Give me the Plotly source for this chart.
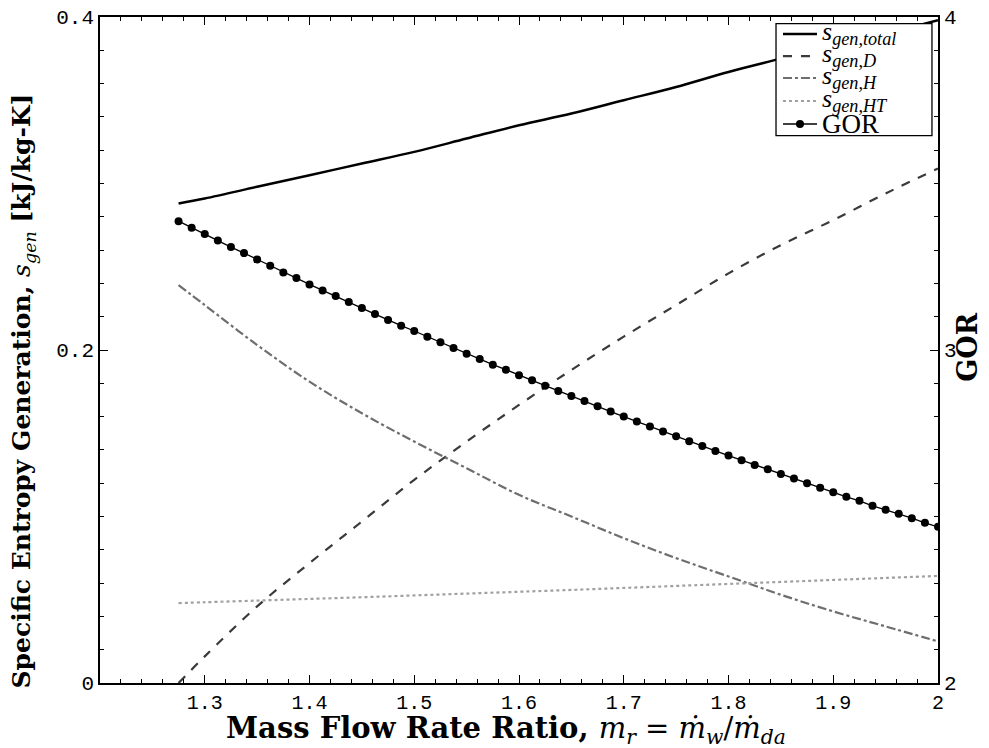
import plotly.graph_objects as go

# ---- data ----
mr_s = [1.275, 1.30, 1.35, 1.40, 1.45, 1.50, 1.55, 1.60, 1.65, 1.70, 1.75,
        1.80, 1.85, 1.90, 1.95, 2.00]
s_total = [0.288, 0.291, 0.298, 0.305, 0.312, 0.319, 0.327, 0.335, 0.342,
           0.350, 0.358, 0.367, 0.375, 0.383, 0.390, 0.398]
s_D = [0.000, 0.016, 0.046, 0.072, 0.097, 0.122, 0.145, 0.167, 0.188,
       0.208, 0.227, 0.246, 0.263, 0.278, 0.294, 0.309]
s_H = [0.239, 0.227, 0.203, 0.181, 0.162, 0.145, 0.129, 0.113, 0.100,
       0.087, 0.075, 0.064, 0.053, 0.043, 0.034, 0.025]
s_HT = [0.0480, 0.0485, 0.0495, 0.0505, 0.0515, 0.0526, 0.0537, 0.0548,
        0.0559, 0.0571, 0.0583, 0.0595, 0.0607, 0.0619, 0.0631, 0.0643]

mr_gor = [1.2750, 1.2875, 1.3000, 1.3125, 1.3250, 1.3375, 1.3500, 1.3625,
          1.3750, 1.3875, 1.4000, 1.4125, 1.4250, 1.4375, 1.4500, 1.4625,
          1.4750, 1.4875, 1.5000, 1.5125, 1.5250, 1.5375, 1.5500, 1.5625,
          1.5750, 1.5875, 1.6000, 1.6125, 1.6250, 1.6375, 1.6500, 1.6625,
          1.6750, 1.6875, 1.7000, 1.7125, 1.7250, 1.7375, 1.7500, 1.7625,
          1.7750, 1.7875, 1.8000, 1.8125, 1.8250, 1.8375, 1.8500, 1.8625,
          1.8750, 1.8875, 1.9000, 1.9125, 1.9250, 1.9375, 1.9500, 1.9625,
          1.9750, 1.9875, 2.0000]
gor = [3.387, 3.367, 3.348, 3.329, 3.309, 3.291, 3.272, 3.253, 3.233, 3.216,
       3.197, 3.179, 3.162, 3.144, 3.126, 3.108, 3.090, 3.073, 3.057, 3.040,
       3.023, 3.006, 2.989, 2.973, 2.956, 2.941, 2.924, 2.909, 2.893, 2.877,
       2.862, 2.847, 2.831, 2.815, 2.800, 2.785, 2.770, 2.755, 2.741, 2.726,
       2.712, 2.697, 2.683, 2.669, 2.655, 2.642, 2.628, 2.614, 2.600, 2.586,
       2.573, 2.559, 2.547, 2.532, 2.520, 2.508, 2.495, 2.481, 2.469]

x_tickvals = [1.2, 1.3, 1.4, 1.5, 1.6, 1.7, 1.8, 1.9, 2.0]
x_ticktext = ["", "1.3", "1.4", "1.5", "1.6", "1.7", "1.8", "1.9", "2"]
y_tickvals = [0, 0.2, 0.4]
y_ticktext = ["0", "0.2", "0.4"]
y2_tickvals = [2, 3, 4]
y2_ticktext = ["2", "3", "4"]

names = ["<i>s<sub>gen,total</sub></i>", "<i>s<sub>gen,D</sub></i>",
         "<i>s<sub>gen,H</sub></i>", "<i>s<sub>gen,HT</sub></i>", "GOR"]

styles = [dict(color="black", width=2.5, dash="solid"),
          dict(color="#3a3a3a", width=2.2, dash="dash"),
          dict(color="#6e6e6e", width=2.2, dash="dashdot"),
          dict(color="#a0a0a0", width=2.2, dash="dot"),
          dict(color="black", width=1.3, dash="solid")]

fig = go.Figure()
for ys, nm, st in zip([s_total, s_D, s_H, s_HT], names[:4], styles[:4]):
    fig.add_trace(go.Scatter(x=mr_s, y=ys, mode="lines", name=nm,
                             line=dict(**st, shape="spline")))
fig.add_trace(go.Scatter(x=mr_gor, y=gor, mode="lines+markers", name=names[4],
                         yaxis="y2", line=styles[4],
                         marker=dict(color="black", size=8)))

xtickfont = dict(family="Liberation Mono", size=20, color="black")
ytickfont = dict(family="Liberation Mono", size=21, color="black")

# ---- hand-built legend box (paper coordinates) ----
leg_x0, leg_x1, leg_y0, leg_y1 = 0.8067, 0.9928, 0.822, 0.990
row_y = [0.9745, 0.9414, 0.9084, 0.8739, 0.8393]
samp_x0, samp_x1, text_x = 0.815, 0.8556, 0.859

shapes = [dict(type="rect", xref="paper", yref="paper", x0=leg_x0, x1=leg_x1,
               y0=leg_y0, y1=leg_y1, fillcolor="white",
               line=dict(color="black", width=1.3), layer="above")]
annotations = []
for nm, st, ry in zip(names, styles, row_y):
    shapes.append(dict(type="line", xref="paper", yref="paper", x0=samp_x0,
                       x1=samp_x1, y0=ry, y1=ry, layer="above",
                       line=dict(color=st["color"],
                                 width=st["width"] if nm != "GOR" else 1.5,
                                 dash=st["dash"])))
    is_gor = nm == "GOR"
    annotations.append(dict(text=nm, xref="paper", yref="paper", x=text_x,
                            y=ry + (0.0 if is_gor else 0.002),
                            xanchor="left", yanchor="middle",
                            showarrow=False,
                            font=dict(family="Liberation Serif",
                                      size=27 if is_gor else 26,
                                      color="black")))
cx = (samp_x0 + samp_x1) / 2
shapes.append(dict(type="circle", xref="paper", yref="paper",
                   x0=cx - 0.0048, x1=cx + 0.0048,
                   y0=row_y[4] - 0.006, y1=row_y[4] + 0.006,
                   fillcolor="black", line=dict(color="black", width=0),
                   layer="above"))

annotations += [
    dict(text="<b>Mass Flow Rate Ratio, </b><i>m<sub>r</sub></i> = "
              "<i>ṁ<sub>w</sub></i>/<i>ṁ<sub>da</sub></i>",
         xref="paper", yref="paper", x=0.4845, y=-0.0706, xanchor="center",
         yanchor="middle", showarrow=False,
         font=dict(family="DejaVu Serif", size=29, color="black")),
    dict(text="<b>Specific Entropy Generation, </b><i>s<sub>gen</sub></i>"
              "<b> [kJ/kg-K]</b>",
         xref="paper", yref="paper", x=-0.092, y=0.439, xanchor="center",
         yanchor="middle", textangle=-90, showarrow=False,
         font=dict(family="DejaVu Serif", size=25, color="black")),
    dict(text="<b>GOR</b>", xref="paper", yref="paper", x=1.036, y=0.505,
         xanchor="center", yanchor="middle", textangle=-90,
         showarrow=False,
         font=dict(family="DejaVu Serif", size=27, color="black")),
]

axis_common = dict(ticks="inside", ticklen=8, tickwidth=1.2, tickcolor="black",
                   showline=True, linecolor="black", linewidth=1.5,
                   showgrid=False, zeroline=False,
                   automargin=False, ticklabeloverflow="allow")

fig.update_layout(
    width=981, height=740,
    margin=dict(l=92, r=51, t=9, b=65, autoexpand=False),
    paper_bgcolor="white", plot_bgcolor="white",
    showlegend=False,
    xaxis=dict(range=[1.2, 2.0], tickvals=x_tickvals, ticktext=x_ticktext,
               minor=dict(dtick=0.02, tick0=1.2, ticks="inside", ticklen=4,
                          tickcolor="black", tickwidth=1),
               mirror="ticks", tickfont=xtickfont, **axis_common),
    yaxis=dict(range=[0, 0.4], tickvals=y_tickvals, ticktext=y_ticktext,
               minor=dict(dtick=0.02, tick0=0, ticks="inside", ticklen=4,
                          tickcolor="black", tickwidth=1),
               mirror="ticks", tickfont=ytickfont, **axis_common),
    yaxis2=dict(range=[2, 4], tickvals=y2_tickvals, ticktext=y2_ticktext,
                overlaying="y", side="right", tickfont=ytickfont,
                **axis_common),
    shapes=shapes,
    annotations=annotations,
)

fig.write_html("out.html")
